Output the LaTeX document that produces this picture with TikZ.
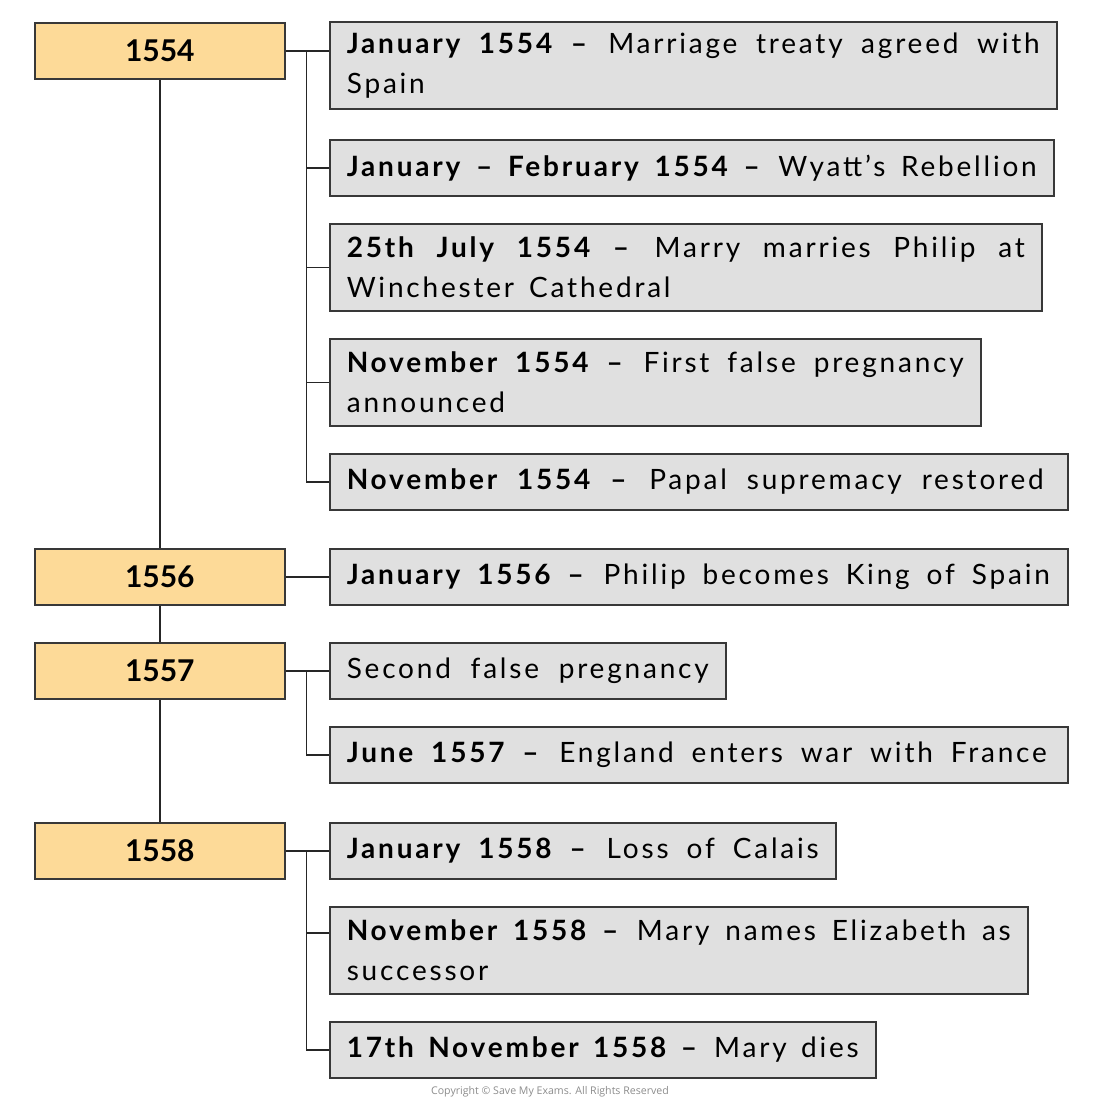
\documentclass[tikz,border=0pt]{standalone}
\usepackage{fontspec}
\setmainfont{Lato}[LetterSpace=10]
\newfontfamily\yearfont{Lato}[LetterSpace=0]
\newfontfamily\smallfont{Open Sans}
\definecolor{yearfill}{HTML}{FDDA98}
\definecolor{evfill}{HTML}{E0E0E0}
\definecolor{edge}{HTML}{383838}
\newcommand{\fl}[2]{\makebox[#1][s]{\spaceskip=\fontdimen2\font plus 1fil\relax #2}}
\newcommand{\evfont}{\fontsize{28}{40}\selectfont}
\begin{document}
\begin{tikzpicture}[x=1pt,y=-1pt,
  yearbox/.style={draw=edge, fill=yearfill, line width=1.6pt, anchor=north west,
    minimum width=250pt, minimum height=56pt, inner sep=0pt,
    font=\yearfont\fontsize{30}{40}\selectfont\bfseries},
  evbox/.style={draw=edge, fill=evfill, line width=1.6pt, anchor=north west,
    inner xsep=17pt, inner ysep=0pt, align=left, font=\evfont},
  link/.style={draw=black!85, line width=1.5pt}
]
\useasboundingbox (0,0) rectangle (1100,1106);
% year boxes
\node[yearbox] (y1554) at (34,22) {1554};
\node[yearbox] (y1556) at (34,548) {1556};
\node[yearbox] (y1557) at (34,642) {1557};
\node[yearbox] (y1558) at (34,822) {1558};
% events
\node[evbox, text width=693pt, minimum height=87pt] (e1) at (329,21)
  {\fl{693pt}{\textbf{January 1554 –} Marriage treaty agreed with}\\Spain};
\node[evbox, text width=690pt, minimum height=56pt] (e2) at (329,139)
  {\fl{690pt}{\textbf{January – February 1554 –} Wyatt’s Rebellion}};
\node[evbox, text width=678pt, minimum height=87pt] (e3) at (329,223)
  {\fl{678pt}{\textbf{25th July 1554 –} Marry marries Philip at}\\Winchester\hspace{15pt}Cathedral};
\node[evbox, text width=617pt, minimum height=87pt] (e4) at (329,338)
  {\fl{617pt}{\textbf{November 1554 –} First false pregnancy}\\announced};
\node[evbox, text width=704pt, minimum height=56pt] (e5) at (329,453)
  {\fl{697pt}{\textbf{November 1554 –} Papal supremacy restored}};
\node[evbox, text width=704pt, minimum height=56pt] (e6) at (329,548)
  {\fl{703pt}{\textbf{January 1556 –} Philip becomes King of Spain}};
\node[evbox, text width=362pt, minimum height=56pt] (e7) at (329,642)
  {\fl{362pt}{Second false pregnancy}};
\node[evbox, text width=704pt, minimum height=56pt] (e8) at (329,726)
  {\fl{700pt}{\textbf{June 1557 –} England enters war with France}};
\node[evbox, text width=472pt, minimum height=56pt] (e9) at (329,822)
  {\fl{472pt}{\textbf{January 1558 –} Loss of Calais}};
\node[evbox, text width=664pt, minimum height=87pt] (e10) at (329,906)
  {\fl{664pt}{\textbf{November 1558 –} Mary names Elizabeth as}\\successor};
\node[evbox, text width=512pt, minimum height=56pt] (e11) at (329,1021)
  {\fl{512pt}{\textbf{17th November 1558 –} Mary dies}};
% main timeline
\draw[link] (y1554.south) -- (y1556.north);
\draw[link] (y1556.south) -- (y1557.north);
\draw[link] (y1557.south) -- (y1558.north);
% 1554 branch
\coordinate (j1) at ([xshift=21pt]y1554.east);
\draw[link] (y1554.east) -- (e1.west |- y1554.east);
\draw[link] (j1) |- (e2.west);
\draw[link] (j1) |- (e3.west);
\draw[link] (j1) |- (e4.west);
\draw[link] (j1) |- (e5.west);
% 1556
\draw[link] (y1556.east) -- (e6.west);
% 1557 branch
\coordinate (j3) at ([xshift=21pt]y1557.east);
\draw[link] (y1557.east) -- (e7.west |- y1557.east);
\draw[link] (j3) |- (e8.west);
% 1558 branch
\coordinate (j4) at ([xshift=21pt]y1558.east);
\coordinate (e10s) at ([yshift=-27pt]e10.north west);
\draw[link] (y1558.east) -- (e9.west |- y1558.east);
\draw[link] (j4) |- (e10s);
\draw[link] (j4) |- (e11.west);
% copyright
\node[font=\smallfont\fontsize{10.6}{12}\selectfont, text=black!45] (copy) at (550,1092)
  {Copyright © Save My Exams. All Rights Reserved};
\end{tikzpicture}
\end{document}
